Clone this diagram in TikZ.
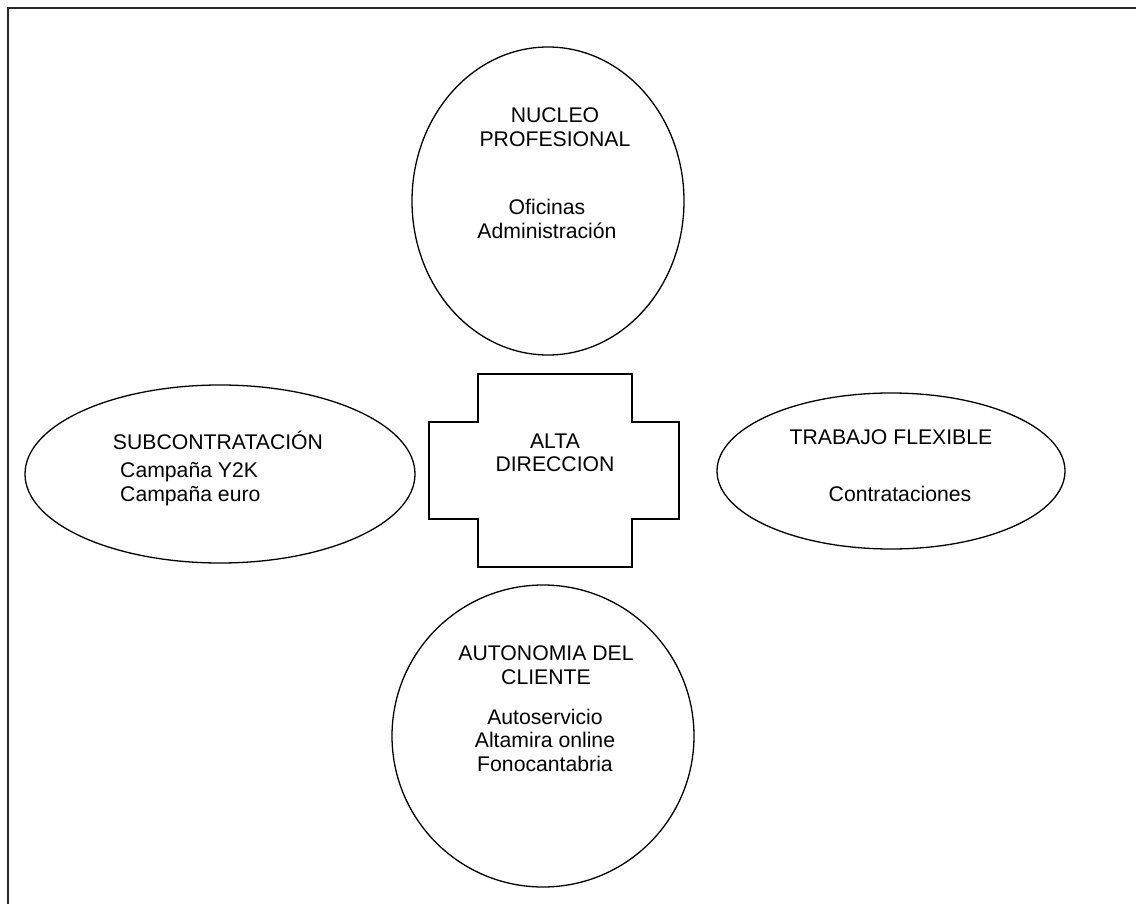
\documentclass[tikz,border=0pt]{standalone}
\usepackage{fontspec}
\setmainfont{Liberation Sans}
\usetikzlibrary{shapes.geometric}
\begin{document}
\begin{tikzpicture}[x=1pt,y=-1pt,
  outline/.style={draw=black,line width=1.3pt},
  oval/.style={outline,ellipse,inner sep=0pt},
  label/.style={font=\fontsize{21.2}{23.5}\selectfont,inner sep=0pt,align=center},
  frameline/.style={draw=black!85,line width=2.4pt}]
\useasboundingbox (0,0) rectangle (1136,904);
\clip (0,0) rectangle (1136,904);

% page frame (only top and left edges fall on the sheet)
\coordinate (fbl) at (8,920);
\coordinate (ftl) at (8,8);
\coordinate (ftr) at (1150,8);
\draw[frameline] (fbl) -- (ftl) -- (ftr);

% four surrounding areas
\node[oval,minimum width=272pt,minimum height=308pt] (nucleo) at (548,201) {};
\node[oval,minimum width=302pt,minimum height=302pt] (cliente) at (543,736) {};
\node[oval,minimum width=390pt,minimum height=178pt] (subc) at (220,474) {};
\node[oval,minimum width=348pt,minimum height=156pt] (flex) at (891,471) {};

% central cross
\draw[outline] (478,374) -- (632,374) -- (632,422) -- (679,422) -- (679,519)
  -- (632,519) -- (632,567) -- (478,567) -- (478,519) -- (429,519)
  -- (429,422) -- (478,422) -- cycle;
\node[label] (alta) at (555,453) {ALTA\\DIRECCION};

% texts
\node[label] (nucleoT) at (555,127) {NUCLEO\\PROFESIONAL};
\node[label] (nucleoB) at (547,219) {Oficinas\\Administración};

\node[label] (subcT) at (218,440) {SUBCONTRATACIÓN};
\node[label,align=left,anchor=west] (subcB) at (120,484) {Campaña Y2K\\Campaña euro};

\node[label] (flexT) at (891,437) {TRABAJO FLEXIBLE};
\node[label] (flexB) at (900,494) {Contrataciones};

\node[label] (clienteT) at (546,665) {AUTONOMIA DEL\\CLIENTE};
\node[label] (clienteB) at (545,740) {Autoservicio\\Altamira online\\Fonocantabria};
\end{tikzpicture}
\end{document}
